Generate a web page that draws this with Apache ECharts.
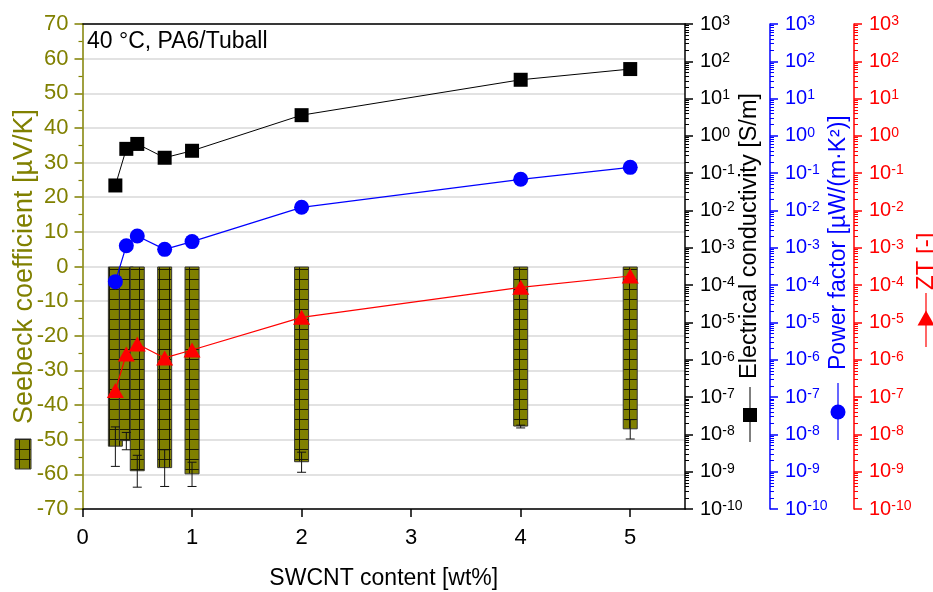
<!DOCTYPE html>
<html><head><meta charset="utf-8">
<script src="https://cdn.jsdelivr.net/npm/echarts@6.0.0/dist/echarts.min.js"></script>
<style>html,body{margin:0;padding:0;background:#fff}#c{width:933px;height:592px}</style>
</head><body><div id="c"></div>
<script>
// ---- data ----
const content = [0.3, 0.4, 0.5, 0.75, 1, 2, 4, 5];
const seebeck = [-52.0, -50.4, -59.1, -58.2, -60.0, -56.5, -46.2, -47.0];
const seebeckErr = [5.7, 2.5, 4.6, 5.3, 3.5, 2.9, 0.4, 2.8];
const conductivity = [0.047, 0.45, 0.61, 0.26, 0.40, 3.6, 32, 62];
const powerFactor = [1.24e-4, 1.14e-3, 2.08e-3, 9.1e-4, 1.47e-3, 0.0122, 0.0687, 0.144];
const zt = [1.49e-7, 1.43e-6, 2.65e-6, 1.12e-6, 1.83e-6, 1.37e-5, 8.75e-5, 1.76e-4];
const xTicks = [0, 1, 2, 3, 4, 5];
const logTicks = [1e-10, 1e-9, 1e-8, 1e-7, 1e-6, 1e-5, 1e-4, 1e-3, 1e-2, 1e-1, 1, 1e1, 1e2, 1e3];

const FONT = 'Liberation Sans, Arial, sans-serif';
const OLIVE = '#808000';

// minor log ticks at 2..9 of each decade (axis decoration)
const minorLogTicks = [];
logTicks.slice(0, -1).forEach(d => { for (let k = 2; k <= 9; k++) minorLogTicks.push(+(k * d).toPrecision(3)); });

// hatch pattern
const pc = document.createElement('canvas');
pc.width = 10; pc.height = 10;
const g = pc.getContext('2d');
g.fillStyle = OLIVE; g.fillRect(0, 0, 10, 10);
g.fillStyle = '#1a1a00'; g.fillRect(9, 0, 1, 10); g.fillRect(0, 9, 10, 1);
const hatch = { image: pc, repeat: 'repeat' };

function logAxis(color, offset) {
  return {
    type: 'log', logBase: 10, min: 1e-10, max: 1e3, position: 'right', offset: offset,
    axisLine: { show: true, onZero: false, lineStyle: { color: color, width: 1.5 } },
    axisTick: { show: true, inside: false, length: 8, customValues: logTicks, lineStyle: { color: color, width: 1.5 } },
    axisLabel: {
      show: true, margin: 15, customValues: logTicks,
      formatter: v => '{b|10}{s|' + Math.round(Math.log10(v)) + '}',
      rich: {
        b: { fontSize: 20, lineHeight: 20, fontFamily: FONT, color: color, verticalAlign: 'bottom', padding: [4, 0, 0, 0] },
        s: { fontSize: 14, lineHeight: 14, fontFamily: FONT, color: color, verticalAlign: 'top' }
      }
    },
    splitLine: { show: false }
  };
}
function minorAxis(color, offset) {
  return {
    type: 'log', logBase: 10, min: 1e-10, max: 1e3, position: 'right', offset: offset,
    axisLine: { show: false, onZero: false },
    axisTick: { show: true, inside: false, length: 4, customValues: minorLogTicks, lineStyle: { color: color, width: 1 } },
    axisLabel: { show: false },
    splitLine: { show: false }
  };
}

const chart = echarts.init(document.getElementById('c'), null, { renderer: 'canvas' });
const option = {
  animation: false,
  backgroundColor: '#fff',
  grid: { left: 82.5, right: 248, top: 24, bottom: 83, containLabel: false, outerBoundsMode: 'none' },
  xAxis: [
    {
      type: 'value', min: 0, max: 5.5, position: 'bottom',
      name: 'SWCNT content [wt%]', nameLocation: 'middle', nameGap: 58, nameMoveOverlap: false,
      nameTextStyle: { fontSize: 23, fontFamily: FONT, color: '#000' },
      axisLine: { show: true, onZero: false, lineStyle: { color: '#000', width: 1.5 } },
      axisTick: { show: true, inside: false, length: 8, customValues: xTicks, lineStyle: { color: '#000', width: 1.5 } },
      axisLabel: { customValues: xTicks, margin: 18, fontSize: 22, fontFamily: FONT, color: '#000' },
      splitLine: { show: false }
    },
    {
      type: 'value', min: 0, max: 5.5, position: 'top',
      axisLine: { show: true, onZero: false, lineStyle: { color: '#000', width: 1.5 } },
      axisTick: { show: false }, axisLabel: { show: false }, splitLine: { show: false }
    }
  ],
  yAxis: [
    {
      type: 'value', min: -70, max: 70, interval: 10, position: 'left',
      name: 'Seebeck coefficient [µV/K]', nameLocation: 'middle', nameGap: 44, nameRotate: 90, nameMoveOverlap: false,
      nameTextStyle: { fontSize: 27, fontFamily: FONT, color: OLIVE },
      axisLine: { show: true, onZero: false, lineStyle: { color: OLIVE, width: 1.5 } },
      axisTick: { show: true, inside: false, length: 8, lineStyle: { color: OLIVE, width: 1.5 } },
      minorTick: { show: true, splitNumber: 2, length: 4, lineStyle: { color: OLIVE, width: 1.2 } },
      axisLabel: { margin: 14, fontSize: 22, fontFamily: FONT, color: OLIVE },
      splitLine: { show: true, lineStyle: { color: '#d9d9d9', width: 1.5 } }
    },
    logAxis('#000', 0), minorAxis('#000', 0),
    logAxis('#0000ff', 85), minorAxis('#0000ff', 85),
    logAxis('#ff0000', 169), minorAxis('#ff0000', 169)
  ],
  series: [
    {
      name: 'Seebeck coefficient', type: 'bar', xAxisIndex: 0, yAxisIndex: 0, barWidth: 15, z: 2,
      data: content.map((x, i) => [x, seebeck[i]]),
      itemStyle: { color: hatch, borderColor: '#333', borderWidth: 1 }
    },
    {
      name: 'Seebeck error', type: 'custom', xAxisIndex: 0, yAxisIndex: 0, z: 3,
      data: content.map((x, i) => [x, seebeck[i] - seebeckErr[i], seebeck[i] + seebeckErr[i]]),
      renderItem: function (params, api) {
        const x = api.value(0);
        const p1 = api.coord([x, api.value(2)]);
        const p2 = api.coord([x, api.value(1)]);
        const w = 4.5;
        const st = { stroke: '#111', lineWidth: 1 };
        return {
          type: 'group', children: [
            { type: 'line', shape: { x1: p1[0], y1: p1[1], x2: p2[0], y2: p2[1] }, style: st },
            { type: 'line', shape: { x1: p1[0] - w, y1: p1[1], x2: p1[0] + w, y2: p1[1] }, style: st },
            { type: 'line', shape: { x1: p2[0] - w, y1: p2[1], x2: p2[0] + w, y2: p2[1] }, style: st }
          ]
        };
      }
    },
    {
      name: 'Electrical conductivity', type: 'line', xAxisIndex: 0, yAxisIndex: 1, z: 4,
      data: content.map((x, i) => [x, conductivity[i]]),
      symbol: 'rect', symbolSize: 14,
      itemStyle: { color: '#000' }, lineStyle: { color: '#000', width: 1 }
    },
    {
      name: 'Power factor', type: 'line', xAxisIndex: 0, yAxisIndex: 3, z: 4,
      data: content.map((x, i) => [x, powerFactor[i]]),
      symbol: 'circle', symbolSize: 15,
      itemStyle: { color: '#0000ff' }, lineStyle: { color: '#0000ff', width: 1.2 }
    },
    {
      name: 'ZT', type: 'line', xAxisIndex: 0, yAxisIndex: 5, z: 4,
      data: content.map((x, i) => [x, zt[i]]),
      symbol: 'triangle', symbolSize: [17, 15],
      itemStyle: { color: '#ff0000' }, lineStyle: { color: '#ff0000', width: 1.2 }
    }
  ],
  graphic: [
    { type: 'text', x: 87, y: 41.5, style: { text: '40 °C, PA6/Tuball', fontSize: 23, fontFamily: FONT, fill: '#000', align: 'left', verticalAlign: 'middle' } },
    { type: 'rect', shape: { x: 15, y: 439, width: 16, height: 30 }, style: { fill: hatch, stroke: '#333', lineWidth: 1 } },
    { type: 'text', x: 750, y: 379, rotation: Math.PI / 2, style: { text: 'Electrical conductivity [S/m]', fontSize: 23.5, fontFamily: FONT, fill: '#000', align: 'left', verticalAlign: 'middle' } },
    { type: 'line', shape: { x1: 750, y1: 387, x2: 750, y2: 442 }, style: { stroke: '#000', lineWidth: 1 } },
    { type: 'rect', shape: { x: 743, y: 408, width: 14, height: 14 }, style: { fill: '#000' } },
    { type: 'text', x: 839, y: 370, rotation: Math.PI / 2, style: { text: 'Power factor [µW/(m·K²)]', fontSize: 23, fontFamily: FONT, fill: '#0000ff', align: 'left', verticalAlign: 'middle' } },
    { type: 'line', shape: { x1: 838, y1: 383, x2: 838, y2: 440 }, style: { stroke: '#0000ff', lineWidth: 1.2 } },
    { type: 'circle', shape: { cx: 838, cy: 412, r: 7.5 }, style: { fill: '#0000ff' } },
    { type: 'text', x: 926, y: 290, rotation: Math.PI / 2, style: { text: 'ZT [-]', fontSize: 24, fontFamily: FONT, fill: '#ff0000', align: 'left', verticalAlign: 'middle' } },
    { type: 'line', shape: { x1: 926, y1: 293, x2: 926, y2: 347 }, style: { stroke: '#ff0000', lineWidth: 1.2 } },
    { type: 'polygon', shape: { points: [[926, 310.5], [934.5, 325.5], [917.5, 325.5]] }, style: { fill: '#ff0000' } }
  ]
};
chart.setOption(option);
</script>
</body></html>
